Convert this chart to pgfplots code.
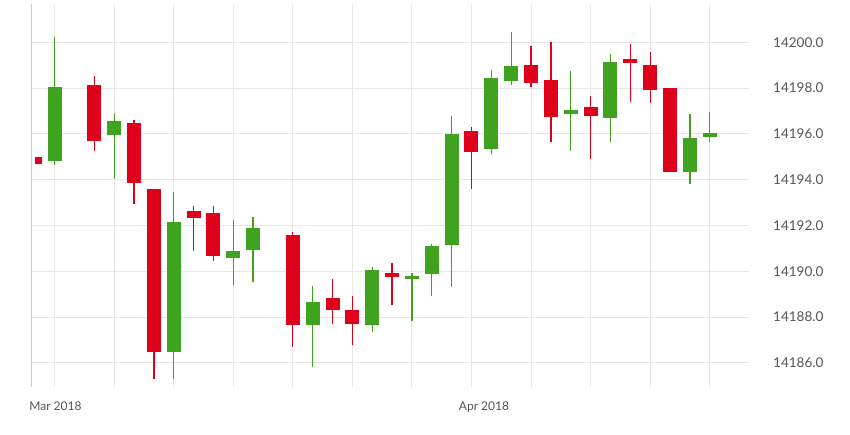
\documentclass[border=0pt]{standalone}
\usepackage{pgfplots}
\usepackage{pgfplotstable}
\pgfplotsset{compat=1.18}
\usepackage{fontspec}
\setmainfont{Lato}
\definecolor{cred}{HTML}{DF001B}
\definecolor{cgreen}{HTML}{40A320}
\definecolor{gridc}{HTML}{E6E6E6}
\definecolor{txt}{HTML}{555555}
\definecolor{axl}{HTML}{C5CAD6}

% s  open  high  low  close
\pgfplotstableread{
s o h l c
-0.8 14195.00 14195.00 14194.68 14194.68
}\firstc
\pgfplotstableread{
s o h l c
2 14198.15 14198.53 14195.27 14195.69
4 14196.49 14196.59 14192.94 14193.84
5 14193.60 14193.60 14185.31 14186.49
7 14192.63 14192.87 14190.90 14192.34
8 14192.53 14192.87 14190.46 14190.68
12 14191.60 14191.70 14186.71 14187.66
14 14188.82 14189.65 14187.70 14188.33
15 14188.33 14188.92 14186.77 14187.71
17 14189.93 14190.35 14188.54 14189.75
21 14196.11 14196.30 14193.61 14195.20
24 14199.02 14199.84 14198.06 14198.22
25 14198.35 14200.00 14195.63 14196.74
27 14197.16 14197.66 14194.91 14196.80
29 14199.26 14199.93 14197.41 14199.11
30 14199.02 14199.58 14197.34 14197.92
31 14198.02 14198.02 14194.34 14194.34
}\redc
\pgfplotstableread{
s o h l c
0 14194.82 14200.22 14194.66 14198.05
3 14195.94 14196.91 14194.04 14196.56
6 14186.49 14193.46 14185.31 14192.17
9 14190.57 14192.24 14189.39 14190.89
10 14190.94 14192.37 14189.52 14191.89
13 14187.66 14189.37 14185.84 14188.66
16 14187.66 14190.20 14187.37 14190.06
18 14189.68 14189.93 14187.83 14189.81
19 14189.87 14191.21 14188.91 14191.09
20 14191.16 14196.78 14189.33 14196.00
22 14195.35 14198.79 14195.11 14198.45
23 14198.31 14200.46 14198.14 14198.95
26 14196.88 14198.75 14195.27 14197.03
28 14196.70 14199.49 14195.66 14199.14
32 14194.34 14196.88 14193.80 14195.82
33 14195.88 14196.94 14195.66 14196.05
}\greenc

\begin{document}
\begin{tikzpicture}
\useasboundingbox (0,0) rectangle (850pt,434pt);
\begin{axis}[
  at={(31pt,47pt)}, anchor=south west,
  width=718pt, height=383pt, scale only axis,
  xmin=-1.19, xmax=34.98,
  ymin=14184.95, ymax=14201.67,
  axis line style={draw=none},
  xtick={0.04,21.63},
  xticklabels={Mar 2018, Apr 2018},
  minor xtick={0,3,...,33},
  xminorgrids=true, xmajorgrids=false,
  ytick={14186,14188,...,14200},
  scaled y ticks=false,
  ymajorgrids=true,
  grid style={gridc, line width=1pt},
  minor grid style={gridc, line width=1pt},
  major tick length=0pt, minor tick length=0pt,
  yticklabel pos=right,
  /pgf/number format/assume math mode=true,
  yticklabel style={/pgf/number format/.cd, fixed, fixed zerofill, precision=1, 1000 sep={}, /tikz/.cd,
    anchor=west, inner sep=0pt, xshift=24pt, font=\fontsize{13.5}{16}\selectfont, text=txt},
  xticklabel style={anchor=north, inner sep=0pt, yshift=-15pt, font=\fontsize{12}{14}\selectfont, text=txt},
  every axis plot/.append style={only marks, mark=*, mark size=0pt, mark options={draw=none, fill=none}},
  clip=true,
]
\draw[axl, line width=2pt] (rel axis cs:0,0) -- (rel axis cs:0,1);
% wicks
\addplot[error bars/.cd, y dir=plus, y explicit, error mark=none,
  error bar style={draw=cred, line width=1.3pt}]
  table[x=s, y=l, y error plus expr=\thisrow{h}-\thisrow{l}] {\redc};
\addplot[error bars/.cd, y dir=plus, y explicit, error mark=none,
  error bar style={draw=cgreen, line width=1.3pt}]
  table[x=s, y=l, y error plus expr=\thisrow{h}-\thisrow{l}] {\greenc};
% bodies
\addplot[error bars/.cd, y dir=plus, y explicit, error mark=none,
  error bar style={draw=cred, line width=14pt}]
  table[x=s, y=c, y error plus expr=\thisrow{o}-\thisrow{c}] {\redc};
\addplot[error bars/.cd, y dir=plus, y explicit, error mark=none,
  error bar style={draw=cgreen, line width=14pt}]
  table[x=s, y=o, y error plus expr=\thisrow{c}-\thisrow{o}] {\greenc};
\addplot[error bars/.cd, y dir=plus, y explicit, error mark=none,
  error bar style={draw=cred, line width=7pt}]
  table[x=s, y=c, y error plus expr=\thisrow{o}-\thisrow{c}] {\firstc};
\end{axis}
\end{tikzpicture}
\end{document}
